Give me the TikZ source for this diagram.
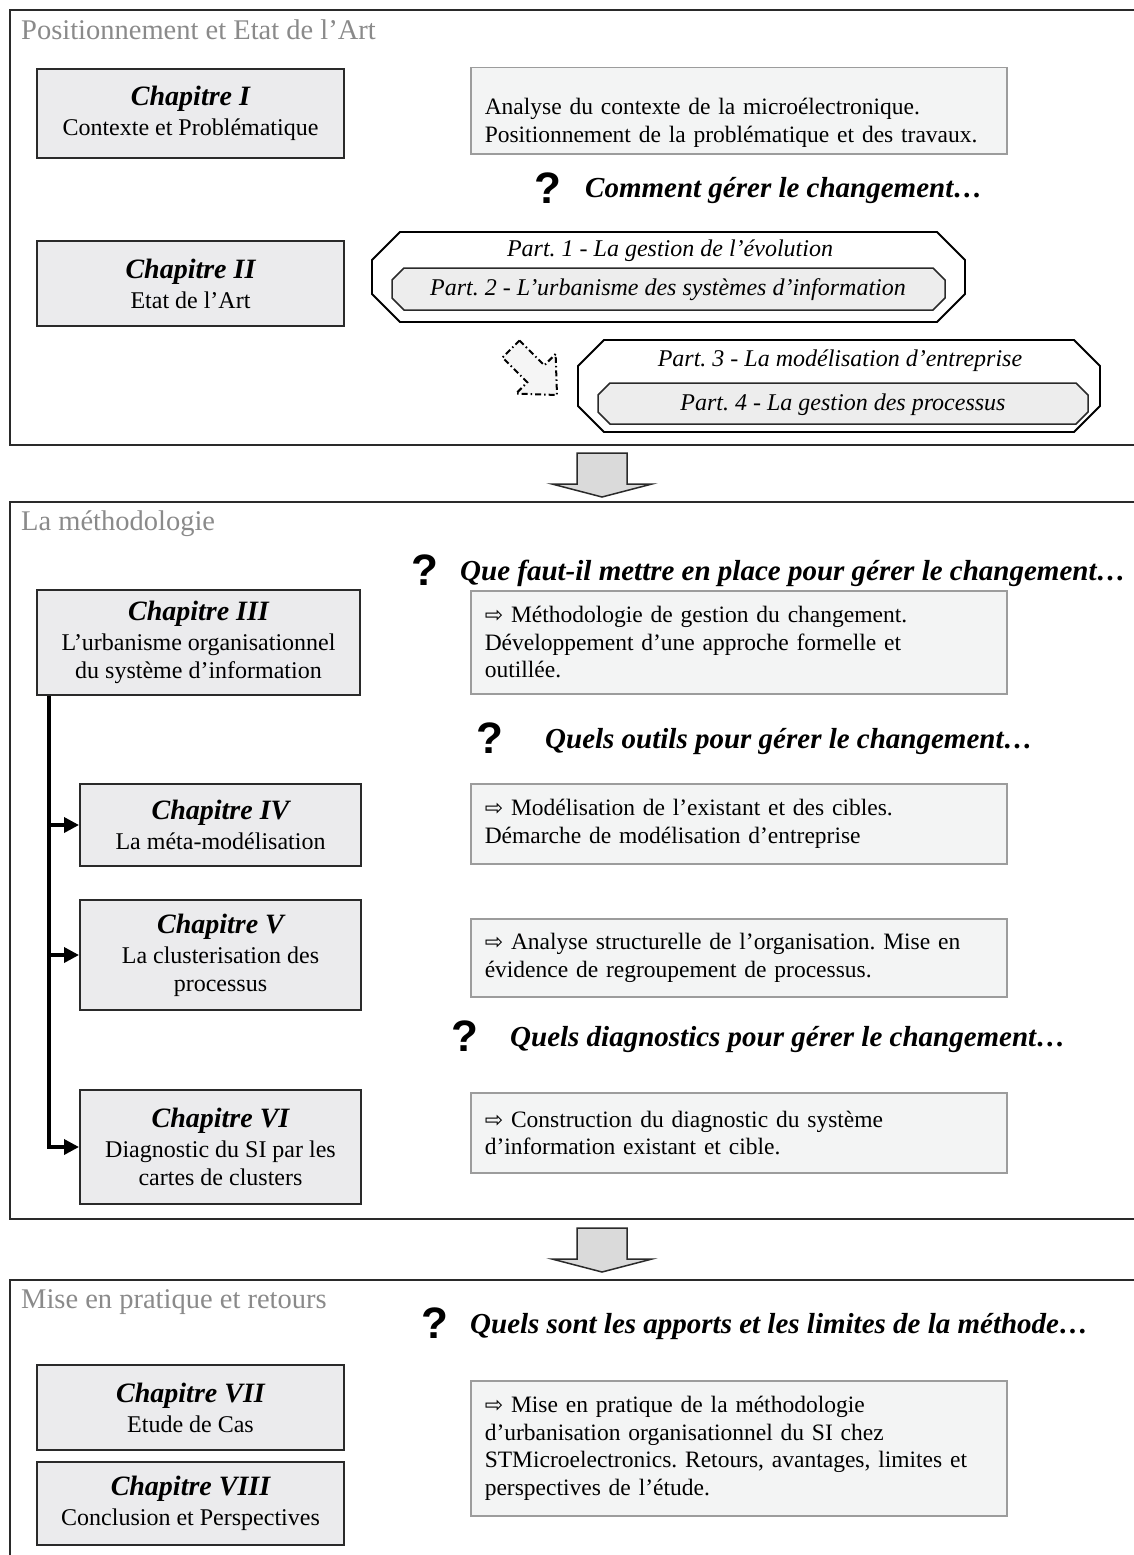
\documentclass[tikz,border=0pt]{standalone}
\usepackage{fontspec}
\setmainfont{Liberation Serif}
\newfontfamily\qmfont{Liberation Sans}
\newfontfamily\arrfont{DejaVu Sans}
\usetikzlibrary{arrows.meta,calc}
\definecolor{chapfill}{HTML}{EBEBED}
\definecolor{descfill}{HTML}{F3F4F4}
\definecolor{descline}{HTML}{9C9C9C}
\definecolor{octfill}{HTML}{EDEDED}
\definecolor{bigarrfill}{HTML}{DADADA}
\definecolor{titlegray}{HTML}{8A8A8A}
\definecolor{darkline}{HTML}{2A2A2A}
\newcommand{\myarr}{{\arrfont\fontsize{22}{22}\selectfont ⇨}\ }
\newcommand{\chapT}[1]{{\fontsize{28}{30}\selectfont\bfseries\itshape #1}\\[2pt]}
\frenchspacing
\begin{document}
\begin{tikzpicture}[x=1pt,y=-1pt,
  secbox/.style={draw=darkline,line width=1.6pt},
  sectitle/.style={anchor=west,text=titlegray,inner sep=0pt,font=\fontsize{28.5}{30}\selectfont},
  chapbox/.style={draw=darkline,line width=2pt,fill=chapfill,align=center,inner sep=0pt,
     font=\fontsize{24}{28}\selectfont},
  descbox/.style={draw=descline,line width=1.5pt,fill=descfill,align=left,anchor=north west,
     inner xsep=14pt,inner ysep=0pt,text width=508pt,minimum width=536pt,
     font=\fontsize{23.5}{27.5}\selectfont},
  qmark/.style={inner sep=0pt,font=\qmfont\bfseries\fontsize{44}{44}\selectfont},
  qtext/.style={anchor=west,inner sep=0pt,font=\fontsize{29}{31}\selectfont\bfseries\itshape},
  octout/.style={draw=black,line width=1.8pt,fill=white},
  octin/.style={draw=darkline,line width=1.5pt,fill=octfill},
  parttext/.style={inner sep=0pt,font=\fontsize{24}{28}\selectfont\itshape},
  bigarrow/.style={draw=darkline,line width=1.5pt,fill=bigarrfill},
  conn/.style={line width=3.5pt,-{Triangle[length=15pt,width=15pt]}},
]
\useasboundingbox (0,0) rectangle (1134,1555);
\clip (0,0) rectangle (1134,1555);

% ---------- sections ----------
\draw[secbox] (10,10) rectangle (1145,445);
\draw[secbox] (10,502) rectangle (1145,1219);
\draw[secbox] (10,1280) rectangle (1145,1570);

\node[sectitle] (t1) at (21,30) {Positionnement et Etat de l’Art};
\node[sectitle] (t2) at (21,524) {La méthodologie};
\node[sectitle] (t3) at (21,1302) {Mise en pratique et retours};

% ---------- big arrows ----------
\draw[bigarrow] (577,453) -- (627,453) -- (627,484) -- (652,484) -- (602,497) -- (552,484) -- (577,484) -- cycle;
\draw[bigarrow] (577,1228) -- (627,1228) -- (627,1259) -- (652,1259) -- (602,1272) -- (552,1259) -- (577,1259) -- cycle;

% ---------- section 1 ----------
\node[chapbox,minimum width=307pt,minimum height=89pt] (c1) at (190.5,113.5)
  {\chapT{Chapitre I}Contexte et Problématique};
\node[chapbox,minimum width=307pt,minimum height=85pt] (c2) at (190.5,283.5)
  {\chapT{Chapitre II}Etat de l’Art};
\node[descbox,minimum height=86pt,text depth=8pt] (d1) at (470,67)
  {Analyse du contexte de la microélectronique.\\Positionnement de la problématique et des travaux.};

\node[qmark] (q1m) at (548,188) {?};
\node[qtext] (q1) at (585,191) {Comment gérer le changement…};

% octagon 1
\draw[octout] (400,232) -- (937,232) -- (965,260) -- (965,294) -- (937,322) -- (400,322) -- (372,294) -- (372,260) -- cycle;
\draw[octin] (404,268) -- (933,268) -- (945,280) -- (945,298) -- (933,310) -- (404,310) -- (392,298) -- (392,280) -- cycle;
\node[parttext] (p1) at (670,251) {Part. 1 - La gestion de l’évolution};
\node[parttext] (p2) at (668,290) {Part. 2 - L’urbanisme des systèmes d’information};

% dotted arrow
\draw[line width=2pt,fill=white!96!black,dash pattern=on 6pt off 3pt on 1.5pt off 3pt]
  (519.5,340.5) -- (544.3,365.3) -- (555.6,354) -- (557,395) -- (516,393.6) -- (527.3,382.3) -- (502.5,357.5) -- cycle;

% octagon 2
\draw[octout] (604,340) -- (1074,340) -- (1100,366) -- (1100,406) -- (1074,432) -- (604,432) -- (578,406) -- (578,366) -- cycle;
\draw[octin] (610,383) -- (1076,383) -- (1088,395) -- (1088,412) -- (1076,424) -- (610,424) -- (598,412) -- (598,395) -- cycle;
\node[parttext] (p3) at (840,361) {Part. 3 - La modélisation d’entreprise};
\node[parttext] (p4) at (843,405) {Part. 4 - La gestion des processus};

% ---------- section 2 ----------
\node[qmark] (q2m) at (425,570) {?};
\node[qtext] (q2) at (460,573) {Que faut-il mettre en place pour gérer le changement…};

\node[chapbox,minimum width=323pt,minimum height=105pt] (c3) at (198.5,642.5)
  {\chapT{Chapitre III}L’urbanisme organisationnel\\du système d’information};
\node[descbox,minimum height=103pt] (d3) at (470,590)
  {\myarr Méthodologie de gestion du changement.\\Développement d’une approche formelle et\\outillée.};

\node[qmark] (q3m) at (490,738) {?};
\node[qtext] (q3) at (545,742) {Quels outils pour gérer le changement…};

\node[chapbox,minimum width=281pt,minimum height=82pt] (c4) at (220.5,825)
  {\chapT{Chapitre IV}La méta-modélisation};
\node[descbox,minimum height=80pt] (d4) at (470,783)
  {\myarr Modélisation de l’existant et des cibles.\\Démarche de modélisation d’entreprise};

\node[chapbox,minimum width=281pt,minimum height=110pt] (c5) at (220.5,955)
  {\chapT{Chapitre V}La clusterisation des\\processus};
\node[descbox,minimum height=78pt] (d5) at (470,918)
  {\myarr Analyse structurelle de l’organisation. Mise en\\évidence de regroupement de processus.};

\node[qmark] (q4m) at (465,1036) {?};
\node[qtext] (q4) at (510,1039) {Quels diagnostics pour gérer le changement…};

\node[chapbox,minimum width=281pt,minimum height=114pt] (c6) at (220.5,1147)
  {\chapT{Chapitre VI}Diagnostic du SI par les\\cartes de clusters};
\node[descbox,minimum height=80pt] (d6) at (470,1092)
  {\myarr Construction du diagnostic du système\\d’information existant et cible.};

\draw[conn] ($(c3.south west)+(13,0)$) |- (c4.west);
\draw[conn] ($(c3.south west)+(13,0)$) |- (c5.west);
\draw[conn] ($(c3.south west)+(13,0)$) |- (c6.west);

% ---------- section 3 ----------
\node[qmark] (q5m) at (435,1323) {?};
\node[qtext] (q5) at (470,1326) {Quels sont les apports et les limites de la méthode…};

\node[chapbox,minimum width=307pt,minimum height=85pt] (c7) at (190.5,1407.5)
  {\chapT{Chapitre VII}Etude de Cas};
\node[chapbox,minimum width=307pt,minimum height=83pt] (c8) at (190.5,1503.5)
  {\chapT{Chapitre VIII}Conclusion et Perspectives};
\node[descbox,minimum height=135pt] (d7) at (470,1380)
  {\myarr Mise en pratique de la méthodologie\\d’urbanisation organisationnel du SI chez\\STMicroelectronics. Retours, avantages, limites et\\perspectives de l’étude.};
\end{tikzpicture}
\end{document}
